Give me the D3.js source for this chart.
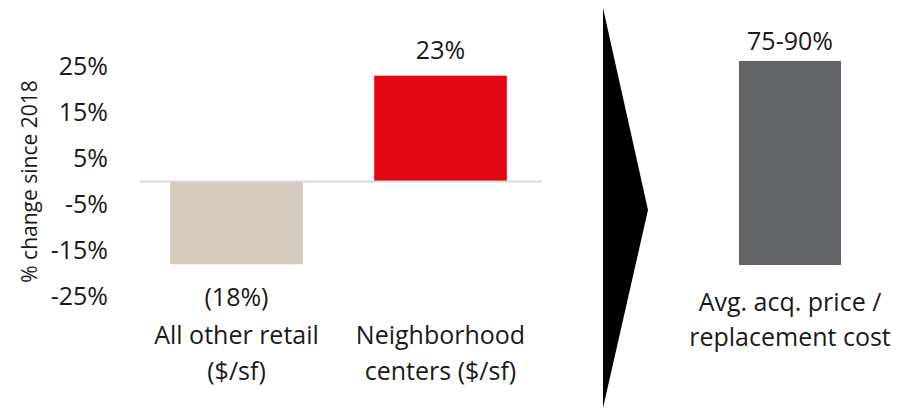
<!DOCTYPE html>
<html>
<head>
<meta charset="utf-8">
<script src="https://cdn.jsdelivr.net/npm/d3@7"></script>
<style>
  body { margin: 0; background: #fff; }
  text { font-family: "Open Sans", sans-serif; fill: #1a1a1a; }
</style>
</head>
<body>
<div id="chart"></div>
<script>
const width = 910;
const height = 409;

// Left panel data
const categories = ["All other retail|($/sf)", "Neighborhood|centers ($/sf)"];
const values = [-18, 23];
const valueLabels = ["(18%)", "23%"];
const barColors = ["#D4CBBD", "#E30613"];
const yTicks = [-25, -15, -5, 5, 15, 25];

// Right panel data
const rightCategory = ["Avg. acq. price /", "replacement cost"];
const rightValue = [90];
const rightLabel = "75-90%";

const fontSize = "25px";

const svg = d3.select("#chart").append("svg")
    .attr("width", width)
    .attr("height", height);

const y = d3.scaleLinear().domain([-25, 25]).range([296.5, 66.5]);

const x = d3.scaleBand()
    .domain(categories)
    .range([134.5, 542.5])
    .paddingInner(0.35)
    .paddingOuter(0.175);

// Y axis (labels only)
const yAxis = svg.append("g")
    .attr("transform", "translate(108,0)")
    .call(d3.axisLeft(y).tickValues(yTicks).tickFormat(d => d + "%").tickSize(0).tickPadding(0));
yAxis.select(".domain").remove();
yAxis.selectAll("text")
    .style("font-family", "'Open Sans', sans-serif")
    .style("font-size", fontSize)
    .style("fill", "#1a1a1a");

svg.append("text")
    .attr("transform", `translate(37,${y(0)}) rotate(-90)`)
    .attr("text-anchor", "middle")
    .style("font-size", "21px")
    .text("% change since 2018");

// Bars
svg.selectAll(".bar")
    .data(values)
    .enter().append("rect")
    .attr("class", "bar")
    .attr("x", (d, i) => x(categories[i]))
    .attr("width", x.bandwidth())
    .attr("y", d => y(Math.max(0, d)))
    .attr("height", d => Math.abs(y(d) - y(0)))
    .attr("fill", (d, i) => barColors[i]);

// Zero line
svg.append("line")
    .attr("x1", 140).attr("x2", 542)
    .attr("y1", y(0)).attr("y2", y(0))
    .attr("stroke", "#d9d9d9")
    .attr("stroke-width", 2);

// Value labels
svg.selectAll(".val")
    .data(values)
    .enter().append("text")
    .attr("class", "val")
    .attr("x", (d, i) => x(categories[i]) + x.bandwidth() / 2)
    .attr("y", d => d >= 0 ? y(d) - 17 : y(d) + 42)
    .attr("text-anchor", "middle")
    .style("font-size", fontSize)
    .text((d, i) => valueLabels[i]);

// Category labels
categories.forEach((c, i) => {
    const t = svg.append("text")
        .attr("text-anchor", "middle")
        .style("font-size", fontSize);
    c.split("|").forEach((line, j) => {
        t.append("tspan")
            .attr("x", x(c) + x.bandwidth() / 2)
            .attr("y", 344 + j * 36)
            .text(line);
    });
});

// Arrow
svg.append("path")
    .attr("d", d3.line()([[603, 8], [648, 210], [603, 408]]) + "Z")
    .attr("fill", "#000");

// Right panel
const yR = d3.scaleLinear().domain([0, 90]).range([265, 61]);
const xR = d3.scaleBand().domain(["r"]).range([688, 892]).padding(1 / 3);

svg.append("rect")
    .attr("x", xR("r"))
    .attr("width", xR.bandwidth())
    .attr("y", yR(rightValue[0]))
    .attr("height", yR(0) - yR(rightValue[0]))
    .attr("fill", "#626468");

svg.append("text")
    .attr("x", xR("r") + xR.bandwidth() / 2)
    .attr("y", yR(rightValue[0]) - 11)
    .attr("text-anchor", "middle")
    .style("font-size", fontSize)
    .text(rightLabel);

const rt = svg.append("text")
    .attr("text-anchor", "middle")
    .style("font-size", fontSize);
rightCategory.forEach((line, j) => {
    rt.append("tspan")
        .attr("x", xR("r") + xR.bandwidth() / 2)
        .attr("y", 311 + j * 35)
        .text(line);
});
</script>
</body>
</html>
